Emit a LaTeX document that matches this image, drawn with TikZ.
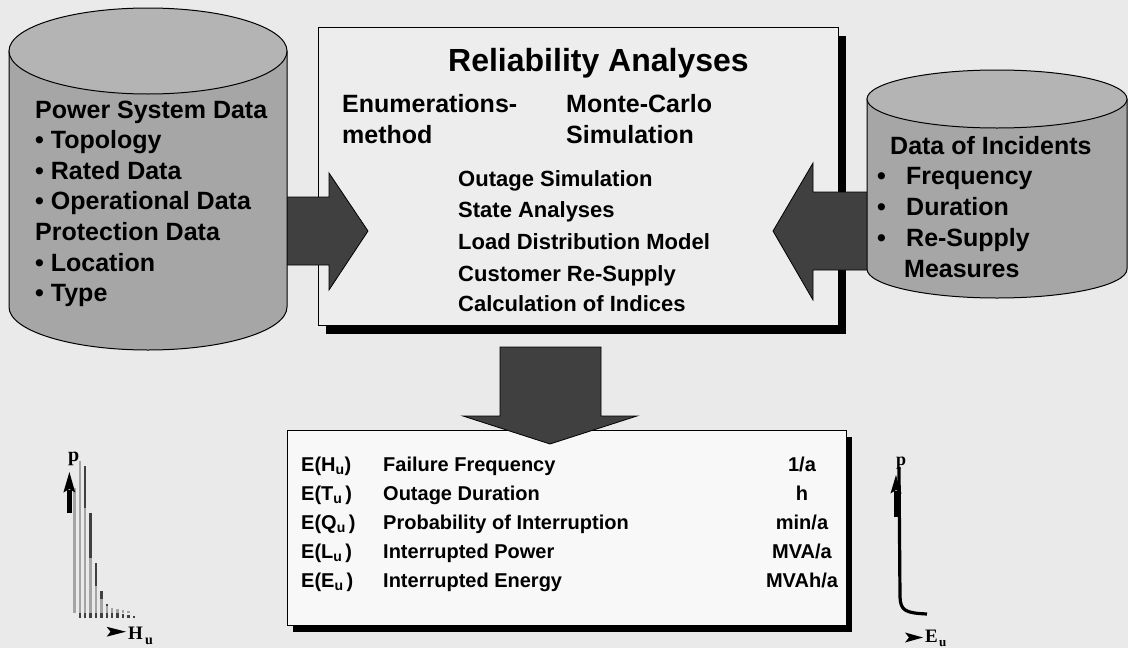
\documentclass[tikz,border=0pt]{standalone}
\usepackage{fontspec}
\setmainfont{Liberation Sans}
\newfontfamily\timesfam{Liberation Serif}
\usetikzlibrary{shadows}
\definecolor{canvas}{HTML}{EAEAEA}
\definecolor{panel}{HTML}{EDEDED}
\definecolor{sheet}{HTML}{F8F8F8}
\definecolor{blockgray}{HTML}{404040}
\definecolor{canside}{HTML}{A6A6A6}
\definecolor{cantop}{HTML}{B4B4B4}
\definecolor{barlight}{HTML}{A4A4A4}
\definecolor{bardark}{HTML}{404040}
\begin{document}
\begin{tikzpicture}[x=1pt,y=-1pt,
  block/.style={fill=blockgray,draw=black,line width=0.8pt,line join=miter},
  canbody/.style={fill=canside,draw=black,line width=1pt},
  canlid/.style={fill=cantop,draw=black,line width=1pt},
  cantext/.style={inner sep=0pt,anchor=base west,font=\bfseries\fontsize{25}{30}\selectfont},
  titletext/.style={inner sep=0pt,anchor=base west,font=\bfseries\fontsize{32}{38}\selectfont},
  steptext/.style={inner sep=0pt,anchor=base west,font=\bfseries\fontsize{22}{26}\selectfont},
  tabtext/.style={inner sep=0pt,anchor=base west,font=\bfseries\fontsize{20}{24}\selectfont},
  unittext/.style={tabtext,anchor=base},
  axislabel/.style={inner sep=0pt,anchor=base west,font=\timesfam\bfseries\fontsize{19}{22}\selectfont},
  axissub/.style={inner sep=0pt,anchor=base west,font=\timesfam\bfseries\fontsize{14}{16}\selectfont},
  plabel/.style={inner sep=0pt,anchor=base west,font=\timesfam\bfseries\fontsize{20}{22}\selectfont},
  dart/.style={fill=black},
]
\useasboundingbox (0,0) rectangle (1128,648);
\fill[canvas] (0,0) rectangle (1128,648);

% central analysis panel with hard shadow
\node[draw=black,line width=1.2pt,fill=panel,minimum width=520pt,minimum height=298pt,
      anchor=north west,inner sep=0pt,
      drop shadow={shadow xshift=7pt,shadow yshift=-8pt,fill=black,opacity=1}]
      (analysis) at (318,27) {};

% results sheet
\node[draw=black,line width=1pt,fill=sheet,minimum width=559pt,minimum height=195pt,
      anchor=north west,inner sep=0pt,
      drop shadow={shadow xshift=5pt,shadow yshift=-6pt,fill=black,opacity=1}]
      (results) at (287,430) {};

% block arrows
\filldraw[block] (250,197) -- (329,197) -- (329,173) -- (368,231) -- (329,290) -- (329,265) -- (250,265) -- cycle;
\filldraw[block] (900,192) -- (813,192) -- (813,163) -- (773,231) -- (813,300) -- (813,270) -- (900,270) -- cycle;
\filldraw[block] (500,347) -- (601,347) -- (601,416) -- (637,416) -- (550,444) -- (463,416) -- (500,416) -- cycle;

% left data store
\filldraw[canbody] (9,51) -- (9,307) arc[start angle=180,end angle=360,x radius=139pt,y radius=43pt] -- (287,51) -- cycle;
\filldraw[canlid] (148,51) ellipse[x radius=139pt,y radius=43pt];

% right data store
\filldraw[canbody] (867,99) -- (867,269) arc[start angle=180,end angle=360,x radius=130pt,y radius=29pt] -- (1127,99) -- cycle;
\filldraw[canlid] (997,99) ellipse[x radius=130pt,y radius=29pt];

% left store text
\foreach \ln [count=\k from 0] in {Power System Data,• Topology,• Rated Data,• Operational Data,Protection Data,• Location,• Type}
  \node[cantext] (psd\k) at (35,118+30.6*\k) {\ln};

% right store text
\node[cantext] (inc0) at (890,154) {Data of Incidents};
\foreach \w [count=\k] in {Frequency,Duration,Re-Supply} {
  \node[cantext] (incb\k) at (877,154+30.8*\k) {•};
  \node[cantext] (inc\k) at (906,154+30.8*\k) {\w};
}
\node[cantext] (inc4) at (904,277.2) {Measures};

% panel text
\node[titletext] (title) at (448,71) {Reliability Analyses};
\node[cantext] (enum1) at (342,112) {Enumerations-};
\node[cantext] (enum2) at (342,143) {method};
\node[cantext] (mc1) at (566,112) {Monte-Carlo};
\node[cantext] (mc2) at (566,143) {Simulation};
\node[steptext] (s1) at (458,186) {Outage Simulation};
\node[steptext] (s2) at (458,217.5) {State Analyses};
\node[steptext] (s3) at (458,249) {Load Distribution Model};
\node[steptext] (s4) at (458,281) {Customer Re-Supply};
\node[steptext] (s5) at (458,311) {Calculation of Indices};

% results table
\node[tabtext] (e1) at (301,471) {E(H\textsubscript{u})};
\node[tabtext] (e2) at (301,500.2) {E(T\textsubscript{u}\hspace{3pt})};
\node[tabtext] (e3) at (301,529.4) {E(Q\textsubscript{u}\hspace{3pt})};
\node[tabtext] (e4) at (301,558.6) {E(L\textsubscript{u}\hspace{3pt})};
\node[tabtext] (e5) at (301,587.8) {E(E\textsubscript{u}\hspace{3pt})};
\node[tabtext] (n1) at (383,471) {Failure Frequency};
\node[tabtext] (n2) at (383,500.2) {Outage Duration};
\node[tabtext] (n3) at (383,529.4) {Probability of Interruption};
\node[tabtext] (n4) at (383,558.6) {Interrupted Power};
\node[tabtext] (n5) at (383,587.8) {Interrupted Energy};
\node[unittext] (u1) at (802,471) {1/a};
\node[unittext] (u2) at (802,500.2) {h};
\node[unittext] (u3) at (802,529.4) {min/a};
\node[unittext] (u4) at (802,558.6) {MVA/a};
\node[unittext] (u5) at (802,587.8) {MVAh/a};

% histogram with offset shadow bars
\foreach \h [count=\k from 0] in {488,461,508,558,586,599,606,607.7,609,610.3,611}
  \fill[bardark] (74.3+5.4*\k+4.2,\h+5) rectangle (74.3+5.4*\k+6.6,618);
\foreach \h [count=\k from 0] in {488,461,508,558,586,599,606,607.7,609,610.3,611}
  \fill[barlight] (74.3+5.4*\k-1.2,\h) rectangle (74.3+5.4*\k+1.2,613.3);
\fill[black] (67,513) rectangle (71.8,490);
\fill[black] (69.4,472) -- (75.2,492.5) -- (69.4,489) -- (63.4,492.5) -- cycle;
\node[plabel] (hp) at (68,461) {p};
\fill[dart] (106.7,626.8) -- (126,631.7) -- (106.7,636.6) -- (110.5,631.7) -- cycle;
\node[axislabel] (hx) at (128,639) {H};
\node[axissub] (hxs) at (145,644) {u};

% distribution curve
\fill[black] (894.2,517) rectangle (897.8,491);
\fill[black] (896,475) -- (901.5,493.5) -- (896,490) -- (890.5,493.5) -- cycle;
\draw[line width=3.2pt] (899,467) -- (900,597) .. controls (900.5,611) and (906,613) .. (927,614);
\node[plabel,font=\timesfam\bfseries\fontsize{18}{20}\selectfont] (cp) at (896,465) {p};
\fill[dart] (905,632.5) -- (923,637.5) -- (905,642.5) -- (909,637.5) -- cycle;
\node[axislabel] (ex) at (925,642) {E};
\node[axissub,font=\timesfam\bfseries\fontsize{13}{15}\selectfont] (exs) at (939,646) {u};
\end{tikzpicture}
\end{document}
